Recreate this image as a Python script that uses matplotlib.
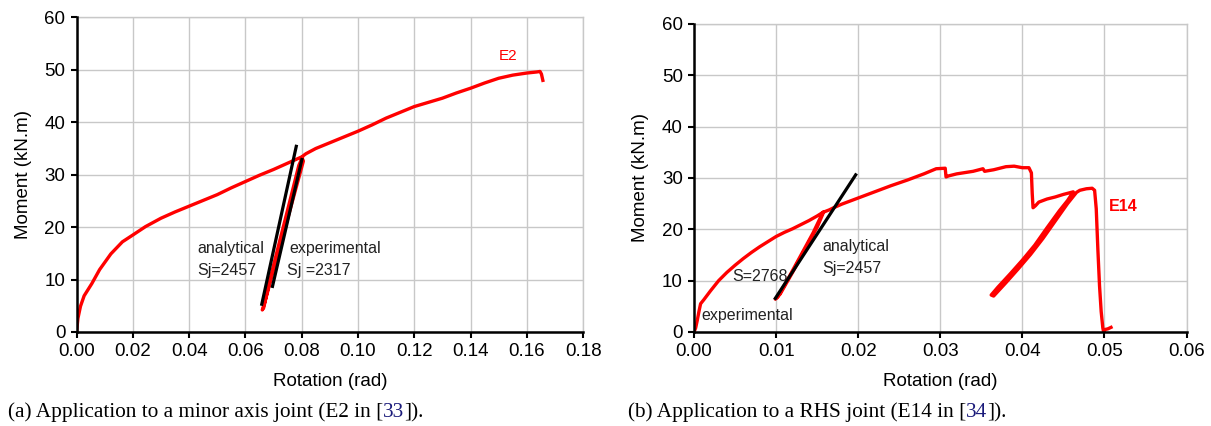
import matplotlib
matplotlib.use('Agg')
import matplotlib.pyplot as plt
from matplotlib.ticker import MultipleLocator, FormatStrFormatter

plt.rcParams['font.family'] = ['Liberation Sans', 'DejaVu Sans']

# ---- E2 : minor axis joint (moment-rotation, with one unload/reload loop) ----
e2_rot = [0, 0.0005, 0.0014, 0.0027, 0.0054, 0.0082, 0.0122, 0.0163, 0.020, 0.0245,
          0.030, 0.035, 0.040, 0.045, 0.050, 0.055, 0.060, 0.065, 0.070, 0.075, 0.0800,
          0.0806, 0.0775, 0.0735, 0.0700, 0.0668, 0.0660,
          0.0665, 0.0690, 0.0725, 0.0760, 0.0790, 0.0805,
          0.0815, 0.085, 0.090, 0.095, 0.100, 0.105, 0.110, 0.115, 0.120, 0.125,
          0.130, 0.135, 0.140, 0.145, 0.150, 0.155, 0.160, 0.1635, 0.1647, 0.1652, 0.1657]
e2_mom = [0, 2.6, 4.9, 6.9, 9.2, 11.9, 14.9, 17.2, 18.5, 20.1,
          21.7, 22.9, 24.0, 25.1, 26.2, 27.5, 28.7, 29.9, 31.0, 32.2, 33.4,
          32.6, 26.5, 18.6, 11.8, 5.5, 4.2,
          4.6, 10.6, 18.0, 25.4, 31.8, 33.6,
          34.0, 35.0, 36.1, 37.2, 38.3, 39.5, 40.8, 41.9, 43.0, 43.8,
          44.6, 45.6, 46.5, 47.5, 48.4, 49.0, 49.4, 49.6, 49.7, 49.2, 48.0]

# initial stiffness lines: (start rotation, start moment, Sj, end rotation)
e2_analytical = (0.0657, 5.0, 2457, 0.0782)
e2_experimental = (0.0695, 8.4, 2317, 0.0802)

# ---- E14 : RHS joint ----
e14_rot = [0, 0.0002, 0.0004, 0.0006, 0.0008, 0.0012, 0.002, 0.003, 0.004, 0.005,
           0.006, 0.007, 0.008, 0.009, 0.010, 0.011, 0.012, 0.013, 0.014, 0.015, 0.0158,
           0.0150, 0.0135, 0.0120, 0.0105, 0.0099,
           0.0102, 0.0115, 0.0130, 0.0145, 0.0157,
           0.0165, 0.017, 0.018, 0.019, 0.020, 0.022, 0.024, 0.026, 0.028, 0.0295,
           0.0306, 0.0307, 0.031, 0.032, 0.034, 0.0352, 0.0354, 0.0365, 0.038, 0.039,
           0.040, 0.0408, 0.0411, 0.0412, 0.0413, 0.0416, 0.042, 0.043, 0.044, 0.045, 0.0462,
           0.0455, 0.0445, 0.043, 0.0415, 0.040, 0.0385, 0.037, 0.0362,
           0.0365, 0.038, 0.0395, 0.041, 0.0425, 0.044, 0.0455, 0.0466,
           0.0470, 0.0478, 0.0485, 0.0488, 0.0490, 0.0492, 0.0494, 0.0496, 0.0498,
           0.0499, 0.0501, 0.0504, 0.0508]
e14_mom = [0, 0.8, 2.3, 4.0, 5.5, 6.3, 8.0, 10.0, 11.6, 13.0,
           14.3, 15.5, 16.6, 17.6, 18.6, 19.4, 20.1, 20.9, 21.7, 22.6, 23.4,
           20.4, 16.0, 11.6, 7.4, 6.4,
           6.8, 10.5, 14.9, 19.3, 23.3,
           23.8, 24.2, 24.9, 25.5, 26.1, 27.3, 28.5, 29.6, 30.8, 31.8,
           31.9, 30.2, 30.4, 30.8, 31.3, 31.8, 31.3, 31.6, 32.2, 32.3,
           32.0, 32.0, 31.0, 27.0, 24.2, 24.6, 25.3, 25.9, 26.3, 26.8, 27.3,
           25.6, 23.6, 20.3, 16.9, 14.0, 11.3, 8.7, 7.2,
           7.0, 9.6, 12.3, 15.1, 18.2, 21.6, 25.0, 27.2,
           27.6, 27.9, 28.0, 27.6, 24.0, 16.0, 9.0, 4.0, 0.8,
           0.0, 0.5, 0.6, 0.9]

e14_analytical = (0.0098, 6.3, 2457, 0.0198)

RED = '#ff0000'
TXT = '#222222'
SERIF = ['Liberation Serif', 'DejaVu Serif']


def stiffness_line(ax, line):
    r0, m0, sj, r1 = line
    ax.plot([r0, r1], [m0, m0 + sj * (r1 - r0)], color='black', lw=2.3,
            solid_capstyle='butt', zorder=4)


def style_axes(ax, xmax, xstep):
    ax.set_xlim(0, xmax)
    ax.set_ylim(0, 60)
    ax.xaxis.set_major_locator(MultipleLocator(xstep))
    ax.yaxis.set_major_locator(MultipleLocator(10))
    ax.xaxis.set_major_formatter(FormatStrFormatter('%.2f'))
    ax.yaxis.set_major_formatter(FormatStrFormatter('%d'))
    ax.grid(True, color='#c8c8c8', lw=1.0)
    ax.set_axisbelow(True)
    for s in ['top', 'right']:
        ax.spines[s].set_color('#c8c8c8')
        ax.spines[s].set_linewidth(1.0)
    for s in ['left', 'bottom']:
        ax.spines[s].set_linewidth(1.8)
        ax.spines[s].set_zorder(5)
    ax.tick_params(direction='out', length=4, width=1.5, labelsize=13.5, pad=4)
    ax.set_xlabel('Rotation (rad)', fontsize=13.5, labelpad=9)
    ax.set_ylabel('Moment (kN.m)', fontsize=13.5, labelpad=9)


def caption(fig, x, y, before, ref, after):
    t = fig.text(x, y, before, family=SERIF, fontsize=15.3, va='baseline', ha='left')
    r = plt.annotate(ref, xy=(1, 0), xycoords=t, va='bottom', ha='left',
                     family=SERIF, fontsize=15.3, color='#1a1a7a',
                     annotation_clip=False)
    plt.annotate(after, xy=(1, 0), xycoords=r, va='bottom', ha='left',
                 family=SERIF, fontsize=15.3, annotation_clip=False)


fig = plt.figure(figsize=(12.11, 4.26), dpi=100)
ax1 = fig.add_axes([0.0632, 0.2207, 0.4183, 0.7383])
ax2 = fig.add_axes([0.5731, 0.2207, 0.4067, 0.7230])

# (a) E2
style_axes(ax1, 0.18, 0.02)
ax1.plot(e2_rot, e2_mom, color=RED, lw=2.4, zorder=3)
stiffness_line(ax1, e2_analytical)
stiffness_line(ax1, e2_experimental)
ax1.text(0.0429, 16.0, 'analytical', color=TXT, fontsize=11.5, va='center')
ax1.text(0.0429, 11.8, 'Sj=2457', color=TXT, fontsize=11.5, va='center')
ax1.text(0.0755, 16.0, 'experimental', color=TXT, fontsize=11.5, va='center')
ax1.text(0.0748, 11.8, 'Sj =2317', color=TXT, fontsize=11.5, va='center')
ax1.text(0.1499, 52.7, 'E2', color=RED, fontsize=11, va='center')

# (b) E14
style_axes(ax2, 0.06, 0.01)
ax2.plot(e14_rot, e14_mom, color=RED, lw=2.4, zorder=3)
stiffness_line(ax2, e14_analytical)
ax2.text(0.01568, 16.6, 'analytical', color=TXT, fontsize=11.5, va='center')
ax2.text(0.01568, 12.3, 'Sj=2457', color=TXT, fontsize=11.5, va='center')
ax2.text(0.00471, 10.9, 'S=2768', color=TXT, fontsize=11.5, va='center', zorder=2)
ax2.text(0.00094, 3.2, 'experimental', color=TXT, fontsize=11.5, va='center', zorder=2)
ax2.text(0.05048, 24.4, 'E14', color=RED, fontsize=11.5, fontweight='bold', va='center')

caption(fig, 8 / 1211, 1 - 417 / 426, '(a) Application to a minor axis joint (E2 in [', '33', ']).')
caption(fig, 628 / 1211, 1 - 417 / 426, '(b) Application to a RHS joint (E14 in [', '34', ']).')

fig.savefig('out.png', dpi=100)
